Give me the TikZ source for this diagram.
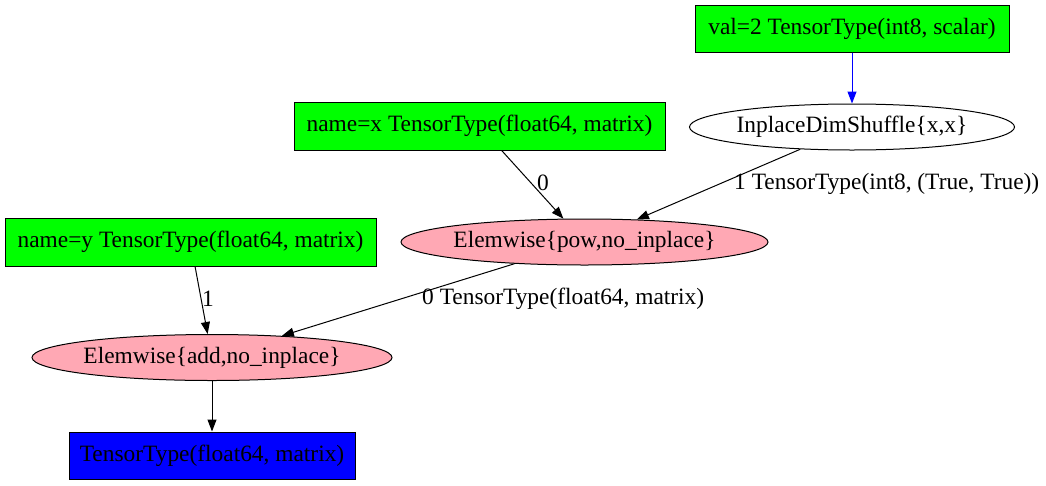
\documentclass[tikz,border=0pt]{standalone}
\usepackage{fontspec}
\setmainfont{Liberation Serif}
\usetikzlibrary{arrows.meta,shapes.geometric}
\definecolor{pinkc}{RGB}{255,168,180}
\definecolor{greenc}{RGB}{0,255,0}
\definecolor{bluec}{RGB}{0,0,255}
\newcommand{\gfont}{\fontsize{23.4}{26}\selectfont}
\begin{document}
\begin{tikzpicture}[x=1pt,y=-1pt,
  box/.style={draw, rectangle, inner sep=0pt, minimum height=47pt, font=\gfont, line width=1pt},
  ell/.style={draw, ellipse, inner sep=0pt, minimum height=46pt, font=\gfont, line width=1pt},
  lbl/.style={inner sep=0pt, font=\gfont},
  arr/.style={line width=1pt, -{Triangle[length=12pt,width=9pt]}}]
\useasboundingbox (0,0) rectangle (1046,485);
\node[box, fill=greenc, minimum width=314pt] (val) at (852,28.5) {val=2 TensorType(int8, scalar)};
\node[ell, minimum width=325pt] (dim) at (852,127) {\makebox[0pt]{InplaceDimShuffle\{x,x\}}};
\node[box, fill=greenc, minimum width=371pt, minimum height=48pt] (x) at (479.5,126) {name=x TensorType(float64, matrix)};
\node[box, fill=greenc, minimum width=371pt, minimum height=48pt] (y) at (190.5,242) {name=y TensorType(float64, matrix)};
\node[ell, fill=pinkc, minimum width=367pt] (pow) at (584.5,242) {\makebox[0pt]{Elemwise\{pow,no\_inplace\}}};
\node[ell, fill=pinkc, minimum width=360pt] (add) at (212,357.5) {\makebox[0pt]{Elemwise\{add,no\_inplace\}}};
\node[box, fill=bluec, minimum width=286pt] (out) at (212,455.5) {TensorType(float64, matrix)};
\draw[arr, draw=bluec, fill=bluec] (val) -- (dim);
\draw[arr] (x) -- (pow);
\draw[arr] (dim) -- (pow);
\draw[arr] (y) -- (add);
\draw[arr] (pow) -- (add);
\draw[arr] (add) -- (out);
\node[lbl] (l0) at (543,183) {0};
\node[lbl, anchor=west] (l1) at (734,184) {1 TensorType(int8, (True, True))};
\node[lbl] (l2) at (208,299) {1};
\node[lbl, anchor=west] (l3) at (422,299) {0 TensorType(float64, matrix)};
\end{tikzpicture}
\end{document}
